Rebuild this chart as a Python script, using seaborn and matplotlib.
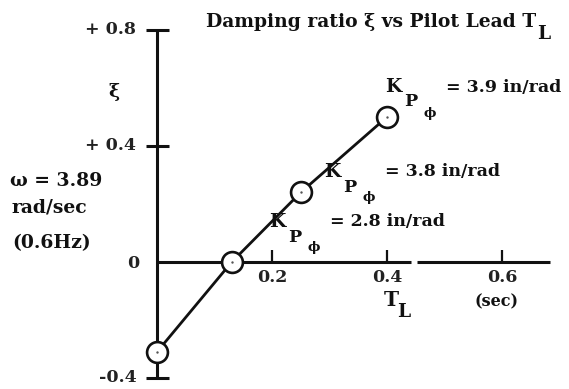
import matplotlib
matplotlib.use("Agg")
import matplotlib.pyplot as plt
import seaborn as sns

# Damping ratio vs pilot lead time constant
lead_time = [0.0, 0.13, 0.25, 0.40]          # T_L (sec)
damping = [-0.31, 0.0, 0.24, 0.50]           # xi
gain_labels = ["2.8", "3.8", "3.9"]          # K_P_phi (in/rad)
x_ticks = [0.2, 0.4, 0.6]
x_tick_labels = ["0.2", "0.4", "0.6"]
y_ticks = [0.8, 0.4, -0.4]
y_tick_labels = ["+ 0.8", "+ 0.4", "-0.4"]

sns.set_style("white")
plt.rcParams["font.family"] = ["DejaVu Serif"]
plt.rcParams["font.weight"] = "bold"

W, H = 569, 389
fig = plt.figure(figsize=(W / 100, H / 100), dpi=100)
ax = fig.add_axes([0, 0, 1, 1])
# pixel scale: 575 px per unit of T_L, 290 px per unit of xi, origin at (157, 262)
ax.set_xlim(-157 / 575, (W - 157) / 575)
ax.set_ylim((262 - H) / 290, 262 / 290)
ax.axis("off")

ink = "#111111"
lw_axis = 2.2

# hand-drawn style axes
ax.plot([0, 0], [-0.4, 0.8], color=ink, lw=lw_axis, solid_capstyle="butt")
ax.plot([0, 0.441], [0, 0], color=ink, lw=lw_axis, solid_capstyle="butt")
ax.plot([0.453, 0.683], [0, 0], color=ink, lw=lw_axis, solid_capstyle="butt")
for yt in y_ticks:
    ax.plot([-0.019, 0.021], [yt, yt], color=ink, lw=lw_axis, solid_capstyle="butt")
for xt in x_ticks:
    ax.plot([xt, xt], [0, 0.042], color=ink, lw=1.6, solid_capstyle="butt")

# data curve with open circle markers
sns.lineplot(x=lead_time, y=damping, ax=ax, color=ink, linewidth=2.0,
             marker="o", markersize=15, markerfacecolor="white",
             markeredgecolor=ink, markeredgewidth=1.9, zorder=3)
sns.scatterplot(x=lead_time, y=damping, ax=ax, color="#555555", s=3,
                linewidth=0, zorder=4)


def px(x, y):
    return x / W, 1 - y / H


fs = 13.5
tfs = 12.5
grey = "#222222"
for yt, lab in zip(y_ticks, y_tick_labels):
    ax.text(-0.036, yt, lab, ha="right", va="center", fontsize=tfs, color=grey)
fig.text(*px(133, 263), "0", ha="center", va="center", fontsize=tfs, color=grey)
for xt, lab in zip(x_ticks, x_tick_labels):
    ax.text(xt, -0.052, lab, ha="center", va="center", fontsize=tfs, color=grey)

fig.text(*px(114, 92), "ξ", ha="center", va="center", fontsize=fs, color=ink)
fig.text(*px(10, 181), "ω = 3.89", ha="left", va="center", fontsize=fs, color=ink)
fig.text(*px(12, 208), "rad/sec", ha="left", va="center", fontsize=fs, color=ink)
fig.text(*px(12, 243), "(0.6Hz)", ha="left", va="center", fontsize=fs, color=ink)

# x axis label
fig.text(*px(391, 300), "T", ha="center", va="center", fontsize=fs + 1, color=ink)
fig.text(*px(404, 312), "L", ha="center", va="center", fontsize=fs, color=ink)
fig.text(*px(497, 302), "(sec)", ha="center", va="center", fontsize=tfs - 1, color=ink)

# title with subscript placed right after it
title = fig.text(*px(206, 22), "Damping ratio ξ vs Pilot Lead T", ha="left",
                 va="center", fontsize=fs, color=ink)
fig.canvas.draw()
bb = title.get_window_extent()
fig.text((bb.x1 + 1) / W, 1 - 34 / H, "L", ha="left", va="center",
         fontsize=fs, color=ink)

# gain annotations: K_P_phi = value in/rad
gain_pos = [(277, 222), (332, 172), (393, 87)]
for (kx, ky), g in zip(gain_pos, gain_labels):
    fig.text(*px(kx, ky), "K", ha="center", va="center", fontsize=fs, color=ink)
    fig.text(*px(kx + 18, ky + 15), "P", ha="center", va="center", fontsize=fs - 1, color=ink)
    fig.text(*px(kx + 37, ky + 26), "ϕ", ha="center", va="center", fontsize=fs - 4, color=ink)
    fig.text(*px(kx + 53, ky), f"= {g} in/rad", ha="left", va="center",
             fontsize=tfs, color=ink)

fig.savefig("out.png", dpi=100)
